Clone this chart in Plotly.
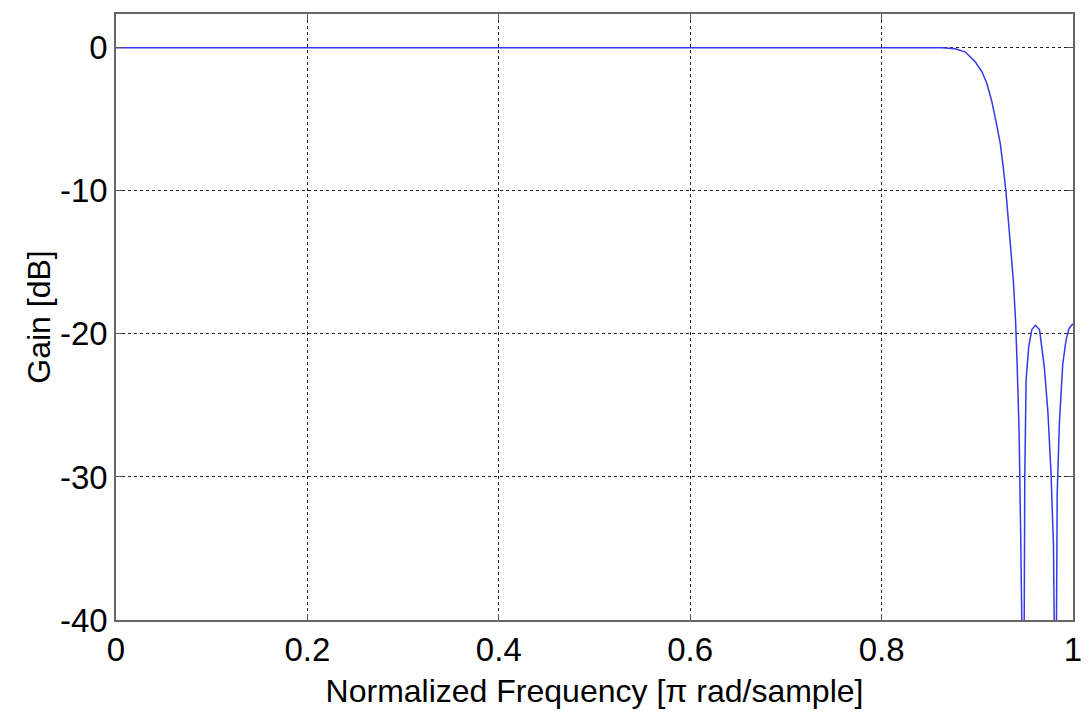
import plotly.graph_objects as go

# Normalized frequency (x pi rad/sample) and gain in dB
freq = [0.0, 0.863, 0.877, 0.8876, 0.898, 0.905, 0.910, 0.915, 0.920, 0.924,
        0.927, 0.930, 0.9376, 0.940, 0.9417, 0.9437, 0.9455, 0.947, 0.948,
        0.949, 0.9496, 0.951, 0.9537, 0.957, 0.9607, 0.965, 0.970, 0.9738,
        0.977, 0.9796, 0.9807, 0.9817, 0.9827, 0.9835, 0.9858, 0.9893,
        0.9928, 0.996, 1.0]
gain = [0.0, 0.0, -0.07, -0.3, -1.0, -1.7, -2.5, -3.7, -5.3, -6.7,
        -8.3, -10.1, -16.2, -19.1, -22.3, -26.9, -34.8, -40.5, -48.0,
        -40.5, -30.0, -23.2, -20.9, -19.7, -19.4, -19.7, -22.3, -25.5,
        -29.7, -34.8, -40.5, -50.0, -40.5, -31.1, -26.2, -22.1,
        -20.4, -19.6, -19.3]

x_ticks = [0, 0.2, 0.4, 0.6, 0.8, 1]
x_ticktext = ["0", "0.2", "0.4", "0.6", "0.8", "1"]
y_ticks = [-40, -30, -20, -10, 0]
y_ticktext = ["-40", "-30", "-20", "-10", "0"]

fig = go.Figure()
fig.add_trace(go.Scatter(x=freq, y=gain, mode="lines",
                         line=dict(color="rgb(55,55,235)", width=1.5),
                         showlegend=False))

font_family = "Liberation Sans, Arial, sans-serif"
axis_common = dict(
    showgrid=True, gridcolor="#222", griddash="dot", gridwidth=1,
    showline=True, linecolor="#666", linewidth=1.5, mirror="ticks",
    ticks="inside", ticklen=6, tickcolor="#555", tickwidth=1.2,
    zeroline=False,
    tickfont=dict(family=font_family, size=33, color="black"),
)

fig.update_layout(
    width=1092, height=715, autosize=False,
    margin=dict(l=116, r=10, t=14, b=95),
    paper_bgcolor="white", plot_bgcolor="white",
    xaxis=dict(range=[0, 1], tickvals=x_ticks, ticktext=x_ticktext,
               title=dict(text="Normalized Frequency [π rad/sample]",
                          font=dict(family=font_family, size=32, color="black"),
                          standoff=12),
               **axis_common),
    yaxis=dict(range=[-40, 2.36], tickvals=y_ticks, ticktext=y_ticktext,
               title=dict(text="Gain [dB]",
                          font=dict(family=font_family, size=32, color="black"),
                          standoff=0),
               **axis_common),
)

fig.write_html("out.html")
